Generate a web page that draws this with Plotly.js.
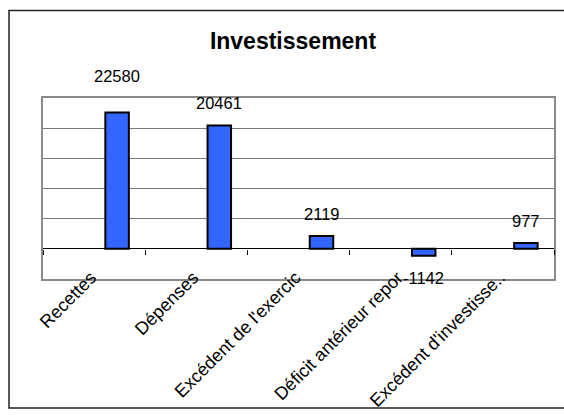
<!DOCTYPE html>
<html>
<head>
<meta charset="utf-8">
<script src="https://cdn.plot.ly/plotly-3.0.1.min.js"></script>
<style>html,body{margin:0;padding:0;background:#fff;}#chart{width:564px;height:416px;}</style>
</head>
<body>
<div id="chart"></div>
<script>
// Data
var categories = ["Recettes", "Dépenses", "Excédent de l'exercic", "Déficit antérieur repor", "Excédent d'investisse.."];
var values = [22580, 20461, 2119, -1142, 977];
var valueLabels = ["22580", "20461", "2119", "-1142", "977"];
var chartTitle = "Investissement";

// Layout geometry (pixels)
var W = 564, H = 416;
var M = {l: 43, r: 10, t: 98, b: 137};
var plotW = W - M.l - M.r, plotH = H - M.t - M.b;
var yRange = [-5000, 25000];
var barWidth = 0.23, barOffset = 0.11;
var FONT = "Liberation Sans, Arial, sans-serif";

function px2paperX(px){ return (px - M.l) / plotW; }
function px2paperY(py){ return (H - M.b - py) / plotH; }

var bars = {
  type: "bar",
  x: categories,
  y: values,
  width: barWidth,
  offset: barOffset,
  marker: {color: "#3366FF", line: {color: "#000000", width: 2}},
  hoverinfo: "x+y",
  showlegend: false
};
// helper trace so the zero-crossing tick axis is drawn
var tickHelper = {
  type: "scatter", mode: "none",
  x: categories, y: categories.map(function(){return null;}),
  xaxis: "x2", yaxis: "y", hoverinfo: "skip", showlegend: false
};

var annotations = values.map(function(v, i){
  var shift = v >= 0 ? 22 : -22;
  if (i === 0) shift = 37;
  return {
    x: i + barOffset + barWidth / 2, y: v, xref: "x", yref: "y",
    text: valueLabels[i], showarrow: false, yshift: shift,
    font: {family: FONT, size: 16.5, color: "#000"}
  };
});

var layout = {
  width: W, height: H,
  margin: M,
  paper_bgcolor: "#ffffff", plot_bgcolor: "#ffffff",
  font: {family: FONT, color: "#000"},
  title: {
    text: "<b>" + chartTitle + "</b>",
    x: 293 / W, xref: "container", xanchor: "center",
    y: 1 - 41 / H, yref: "container", yanchor: "middle",
    font: {family: FONT, size: 23, color: "#000"}
  },
  bargap: 0,
  xaxis: {
    type: "category", range: [-0.5, categories.length - 0.5],
    tickangle: -45, ticks: "", showgrid: false,
    showline: true, mirror: true, linecolor: "#8a8a8a", linewidth: 2,
    tickfont: {family: FONT, size: 18, color: "#000"},
    ticklabelstandoff: -21, ticklabelshift: -3,
    fixedrange: true
  },
  xaxis2: {
    overlaying: "x", matches: "x", anchor: "free",
    position: (0 - yRange[0]) / (yRange[1] - yRange[0]),
    side: "bottom", ticks: "outside", ticklen: 5, tickwidth: 1, tickcolor: "#000",
    tickson: "boundaries", showticklabels: false, showgrid: false, showline: false
  },
  yaxis: {
    range: yRange, dtick: 5000, showticklabels: false, ticks: "",
    showgrid: true, gridcolor: "#7a7a7a", gridwidth: 1,
    zeroline: true, zerolinecolor: "#000", zerolinewidth: 1,
    showline: true, mirror: true, linecolor: "#8a8a8a", linewidth: 2,
    fixedrange: true
  },
  annotations: annotations,
  shapes: [{
    type: "rect", xref: "paper", yref: "paper",
    x0: px2paperX(9), x1: px2paperX(W + 4),
    y0: px2paperY(408), y1: px2paperY(10.5),
    line: {color: "#222", width: 1.5}, fillcolor: "rgba(0,0,0,0)"
  }]
};

Plotly.newPlot("chart", [bars, tickHelper], layout, {displayModeBar: false, staticPlot: true});
</script>
</body>
</html>
